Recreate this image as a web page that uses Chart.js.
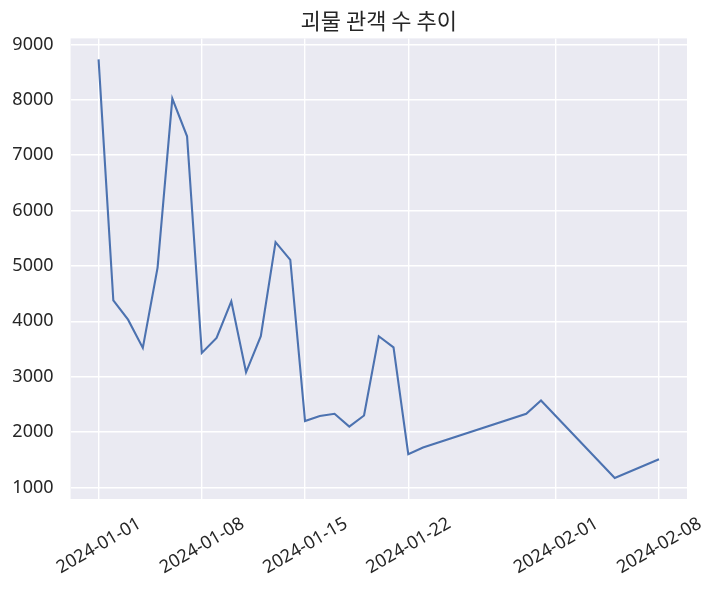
<!DOCTYPE html>
<html>
<head>
<meta charset="utf-8">
<script src="https://cdn.jsdelivr.net/npm/chart.js@4/dist/chart.umd.min.js"></script>
<style>
html,body{margin:0;padding:0;background:#fff;}
#wrap{width:722px;height:591px;position:relative;}
</style>
</head>
<body>
<div id="wrap"><canvas id="c" width="722" height="591"></canvas></div>
<script>
const dates = ["2024-01-01","2024-01-02","2024-01-03","2024-01-04","2024-01-05","2024-01-06","2024-01-07","2024-01-08","2024-01-09","2024-01-10","2024-01-11","2024-01-12","2024-01-13","2024-01-14","2024-01-15","2024-01-16","2024-01-17","2024-01-18","2024-01-19","2024-01-20","2024-01-21","2024-01-22","2024-01-23","2024-01-30","2024-01-31","2024-02-05","2024-02-08"];
const audience = [8730,4380,4030,3520,4970,8020,7340,3430,3700,4360,3080,3730,5430,5110,2200,2290,2330,2100,2300,3730,3530,1600,1720,2330,2570,1170,1510];
const xTickLabels = ["2024-01-01","2024-01-08","2024-01-15","2024-01-22","2024-02-01","2024-02-08"];
const yTicks = [1000,2000,3000,4000,5000,6000,7000,8000,9000];
const title = "괴물 관객 수 추이";

const DAY = 86400000;
const base = Date.UTC(2024,0,1);
const toDay = s => { const p = s.split('-').map(Number); return (Date.UTC(p[0],p[1]-1,p[2]) - base)/DAY; };
const toStr = d => new Date(base + Math.round(d)*DAY).toISOString().slice(0,10);
const pts = dates.map((d,i)=>({x: toDay(d), y: audience[i]}));
const xTickDays = xTickLabels.map(toDay);
const first = toDay(dates[0]), last = toDay(dates[dates.length-1]);
const xm = (last-first)*0.05;
const ymin = Math.min(...audience), ymax = Math.max(...audience);
const ym = (ymax-ymin)*0.05;

const bgPlugin = {
  id:'bg',
  beforeDraw(chart){
    const {ctx, chartArea:a} = chart;
    ctx.save();
    ctx.fillStyle = '#EAEAF2';
    ctx.fillRect(a.left, a.top, a.right-a.left, a.bottom-a.top);
    ctx.restore();
  }
};

new Chart(document.getElementById('c'), {
  type:'line',
  data:{datasets:[{data:pts, borderColor:'#4C72B0', borderWidth:2.1, pointRadius:0, tension:0, fill:false}]},
  options:{
    responsive:false, animation:false,
    layout:{padding:{left:0,right:35,top:0,bottom:0}},
    plugins:{
      legend:{display:false}, tooltip:{enabled:false},
      title:{display:true, fullSize:false, text:title, color:'#262626', font:{family:'"Noto Sans CJK KR"', size:22, weight:'normal', lineHeight:1.2}, padding:{top:7,bottom:5}}
    },
    scales:{
      x:{
        type:'linear', min:first-xm, max:last+xm,
        afterBuildTicks(s){ s.ticks = xTickDays.map(v=>({value:v})); },
        afterFit(s){ s.height = 92; },
        border:{display:false},
        grid:{color:'#ffffff', lineWidth:1.4, drawTicks:false},
        ticks:{autoSkip:false, minRotation:30, maxRotation:30, padding:14, labelOffset:41, color:'#262626',
          font:{family:'"Noto Sans"', size:18}, callback:v=>toStr(v)}
      },
      y:{
        min:ymin-ym, max:ymax+ym,
        afterBuildTicks(s){ s.ticks = yTicks.map(v=>({value:v})); },
        afterFit(s){ s.width = 68; },
        border:{display:false},
        grid:{color:'#ffffff', lineWidth:1.4, drawTicks:false},
        ticks:{padding:17, color:'#262626', font:{family:'"Noto Sans"', size:18}, callback:v=>String(v)}
      }
    }
  },
  plugins:[bgPlugin]
});
</script>
</body>
</html>
